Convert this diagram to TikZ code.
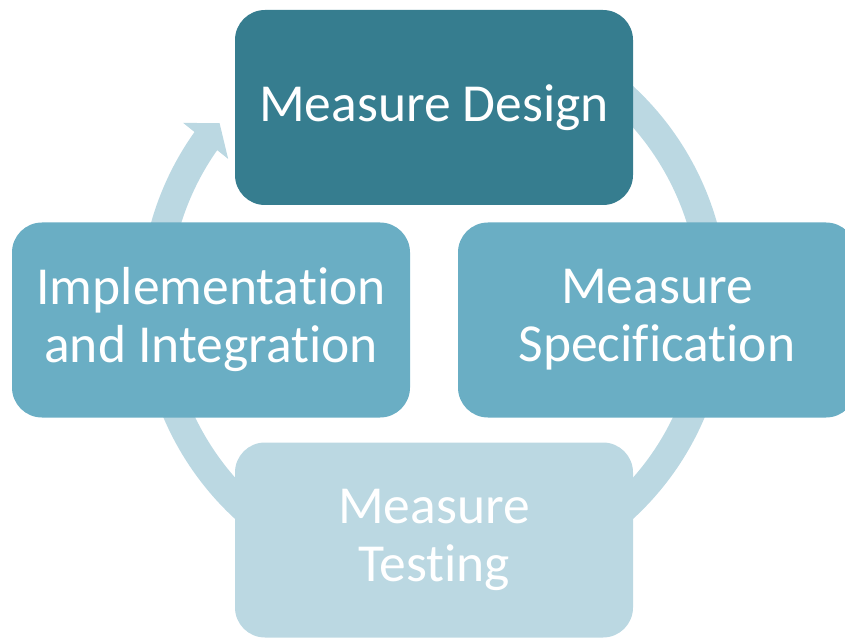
\documentclass[tikz,border=0pt]{standalone}
\usepackage{fontspec}
\setmainfont{Carlito}[Ligatures=NoCommon]
\definecolor{darkteal}{HTML}{367D8F}
\definecolor{midteal}{HTML}{6AAEC4}
\definecolor{paleteal}{HTML}{BBD8E2}
\tikzset{
  stage/.style={rounded corners=30pt, minimum width=398pt, minimum height=195pt,
    inner sep=0pt, text=white, align=center, font=\fontsize{53.5}{58}\selectfont},
}
\begin{document}
\begin{tikzpicture}[x=1pt,y=1pt]
    \useasboundingbox (0,0) rectangle (845,638);
    \coordinate (hub) at (434,335.5);
    % cycle arrow, mostly hidden behind the boxes
    \draw[paleteal, line width=29pt] ([shift={(75:279.5)}]hub) arc[start angle=75, end angle=-215.8, radius=279.5];
    \fill[paleteal] ([shift={(144.4:308.6)}]hub) -- ([shift={(140.1:279.5)}]hub) -- ([shift={(145.1:251)}]hub) -- cycle;
    \node [stage, fill=darkteal] (design) at (434,530.5) {Measure Design};
    \node [stage, fill=midteal] (spec) at (657,318) {Measure\\Specification};
    \node [stage, fill=midteal] (integration) at (211,318) {Implementation\\and Integration};
    \node [stage, fill=paleteal] (testing) at (434,98) {Measure\\Testing};
  \end{tikzpicture}
\end{document}
